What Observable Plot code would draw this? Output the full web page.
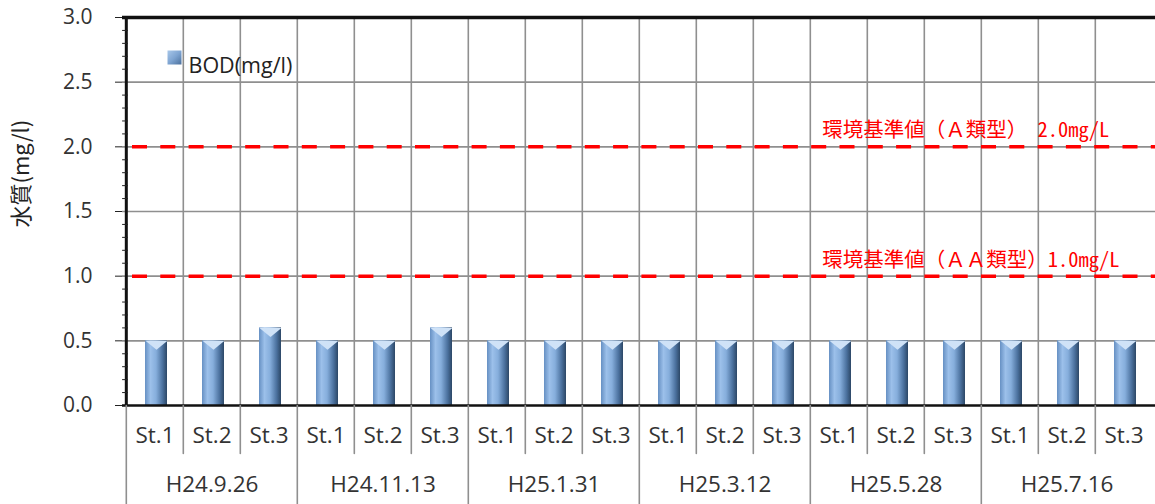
<!DOCTYPE html>
<html><head><meta charset="utf-8">
<script src="https://cdn.jsdelivr.net/npm/d3@7"></script>
<script src="https://cdn.jsdelivr.net/npm/@observablehq/plot@0.6"></script>
<style>body{margin:0;background:#fff} svg{display:block}</style>
</head><body><div id="chart"></div>
<script>
const dates = ["H24.9.26","H24.11.13","H25.1.31","H25.3.12","H25.5.28","H25.7.16"];
const stations = ["St.1","St.2","St.3"];
const bod = [0.5,0.5,0.6, 0.5,0.5,0.6, 0.5,0.5,0.5, 0.5,0.5,0.5, 0.5,0.5,0.5, 0.5,0.5,0.5];
const standards = [2.0, 1.0];
const standardLabels = ["環境基準値（Ａ類型）　2.0mg/L", "環境基準値（ＡＡ類型）1.0mg/L"];
const yTicks = [0, 0.5, 1.0, 1.5, 2.0, 2.5, 3.0];
const yGrid = [0.5, 1.0, 1.5, 2.0, 2.5];
const yMinorTicks = [0.1,0.2,0.3,0.4, 0.6,0.7,0.8,0.9, 1.1,1.2,1.3,1.4, 1.6,1.7,1.8,1.9, 2.1,2.2,2.3,2.4, 2.6,2.7,2.8,2.9];
const seriesName = "BOD(mg/l)";
const yTitle = "水質(mg/l)";

const rows = dates.flatMap((d, i) => stations.map((s, j) => ({key: `${d}|${s}`, date: d, station: s, value: bod[i * 3 + j]})));
const keys = rows.map(r => r.key);

const W = 1155, H = 504, ML = 122, MR = 0, MT = 17, MB = 99;
const bw = (W - ML - MR) / keys.length;
const grid = "#8f8f8f";
const font = "'Open Sans', 'Noto Sans CJK JP', sans-serif";
const lineShape = {draw(context, l) { context.moveTo(0, 0); context.lineTo(0, -l); }};
const capSymbol = {draw(context) { context.moveTo(-11, 0); context.lineTo(11, 0); context.lineTo(0, 9); context.closePath(); }};

const plot = Plot.plot({
  width: W, height: H,
  marginLeft: ML, marginRight: MR, marginTop: MT, marginBottom: MB,
  style: {fontFamily: font, fontSize: "21px", background: "#fff", color: "#333", overflow: "visible"},
  x: {type: "band", domain: keys, padding: 0, axis: null},
  y: {domain: [0, 3], axis: null},
  marks: [
    Plot.ruleY(yGrid, {stroke: grid, strokeWidth: 1.6}),
    Plot.ruleX(rows, {x: "key", dx: -bw / 2, stroke: grid, strokeWidth: 1.6}),
    Plot.ruleY(standards, {stroke: "#ff0000", strokeWidth: 3.5, strokeDasharray: "15,13.3", strokeDashoffset: 18.3}),
    Plot.text(standards, {x: () => keys[12], y: d => d, text: (d, i) => standardLabels[i], textAnchor: "start", dx: -bw / 2 + 12, dy: -16, fill: "#ff0000", fontSize: 20.5, fontFamily: "'Noto Sans Mono CJK JP', 'Noto Sans CJK JP', monospace"}),
    Plot.barY(rows, {x: "key", y: "value", fill: "url(#barGrad)", insetLeft: 19, insetRight: 16}),
    Plot.dot(rows, {x: "key", y: "value", symbol: capSymbol, fill: "#cfe2f7", stroke: "none", dx: 1.5}),
    // axes lines
    Plot.ruleY([0], {stroke: "#111", strokeWidth: 2.5}),
    Plot.ruleY([3], {stroke: "#111", strokeWidth: 3.5}),
    Plot.ruleX([keys[0]], {dx: -bw / 2, stroke: "#111", strokeWidth: 3}),
    Plot.axisY(yTicks, {tickSize: 7, tickPadding: 23, tickFormat: d3.format(".1f"), fontSize: 21, stroke: "#222", fill: "#333", label: null}),
    Plot.vector(yMinorTicks, {y: d => d, frameAnchor: "left", length: 5, rotate: 90, anchor: "start", shape: lineShape, stroke: "#222", strokeWidth: 1}),
    Plot.text([yTitle], {frameAnchor: "left", rotate: -90, dx: -101, dy: 16, fontSize: 22, fill: "#222", fontFamily: "'Noto Sans CJK JP', sans-serif"}),
    // lower category axis
    Plot.vector(rows.filter(r => r.station !== stations[0]), {x: "key", frameAnchor: "bottom", dx: -bw / 2, length: 48, rotate: 180, anchor: "start", shape: lineShape, stroke: grid, strokeWidth: 1.6}),
    Plot.vector(rows.filter(r => r.station === stations[0]), {x: "key", frameAnchor: "bottom", dx: -bw / 2, length: 100, rotate: 180, anchor: "start", shape: lineShape, stroke: grid, strokeWidth: 1.6}),
    Plot.text(rows, {x: "key", text: "station", frameAnchor: "bottom", dy: 37, fontSize: 22.5, fill: "#333"}),
    Plot.text(rows.filter(r => r.station === stations[1]), {x: "key", text: "date", frameAnchor: "bottom", dy: 86, fontSize: 22.5, fill: "#333"}),
    // legend
    Plot.dot([seriesName], {frameAnchor: "top-left", dx: 52, dy: 40, symbol: "square", r: 7.9, fill: "url(#legGrad)"}),
    Plot.text([seriesName], {frameAnchor: "top-left", text: d => d, dx: 66, dy: 40, textAnchor: "start", fontSize: 21.5, fill: "#222"})
  ]
});

const svg = d3.select(plot);
const defs = svg.insert("defs", ":first-child");
const g = defs.append("linearGradient").attr("id", "barGrad").attr("x1", 0).attr("x2", 1).attr("y1", 0).attr("y2", 0);
[[0, "#6690c3"], [0.25, "#9cc0ea"], [0.5, "#86aedc"], [0.8, "#4b719e"], [1, "#2c4766"]].forEach(([o, c]) => g.append("stop").attr("offset", o).attr("stop-color", c));
const lg = defs.append("linearGradient").attr("id", "legGrad").attr("x1", 0).attr("x2", 1).attr("y1", 0).attr("y2", 1);
[[0, "#a9c8ea"], [0.5, "#7fa5d2"], [1, "#4a6f9c"]].forEach(([o, c]) => lg.append("stop").attr("offset", o).attr("stop-color", c));
document.getElementById("chart").appendChild(plot);
</script>
</body></html>
